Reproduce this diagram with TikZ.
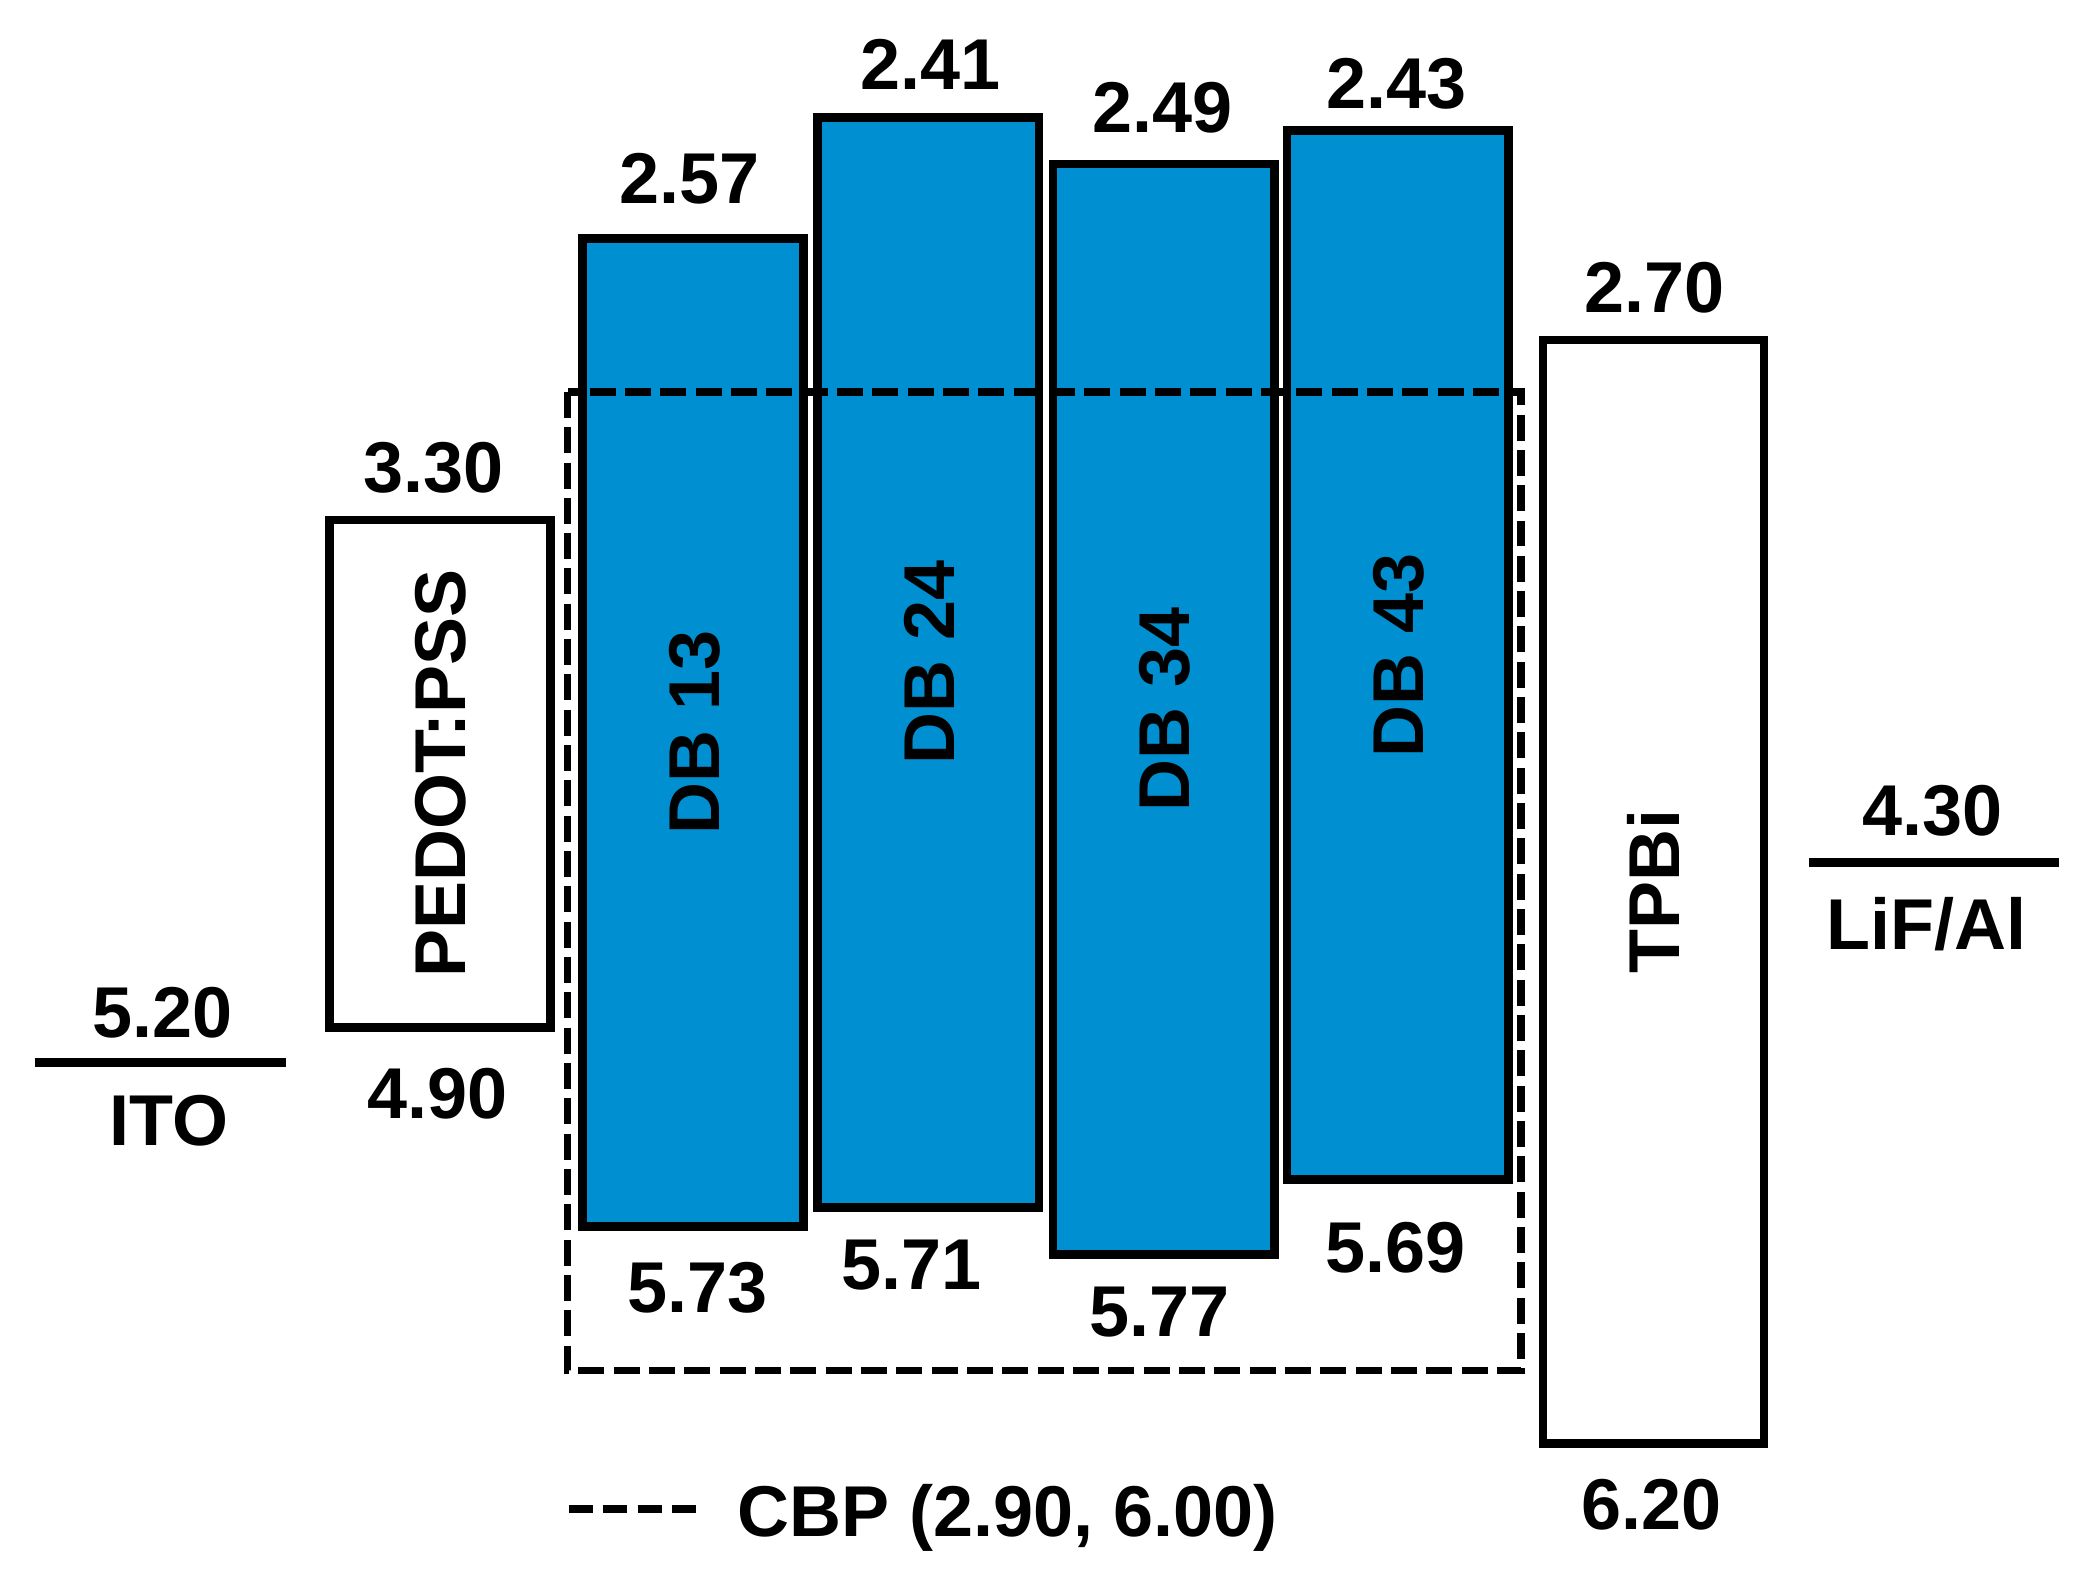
\documentclass[tikz,border=0pt]{standalone}
\usepackage{fontspec}
\setmainfont{Liberation Sans}
\definecolor{dbblue}{RGB}{0,143,209}
\begin{document}
\begin{tikzpicture}[x=1pt,y=-1pt,
  lbl/.style={font=\fontsize{54}{60}\selectfont\bfseries, inner sep=0pt, text height=39pt, text depth=0pt},
  layer/.style={lbl, draw=black, line width=6.5pt, rotate=90},
  dbbox/.style={layer, fill=dbblue},
  level/.style={line width=7pt},
  cbp/.style={line width=5.5pt, dash pattern=on 19.5pt off 7pt}]
\useasboundingbox (0,0) rectangle (1568,1191);
% layers (minimum width = vertical size because of rotation)
\node[layer, minimum width=381pt, minimum height=166pt] (pedot) at (330,580.5) {PEDOT:PSS};
\node[dbbox, minimum width=741pt, minimum height=166pt] (db13) at (520,549.5) {DB 13};
\node[dbbox, minimum width=818pt, minimum height=166pt] (db24) at (696.5,497) {DB 24};
\node[dbbox, minimum width=818pt, minimum height=166pt] (db34) at (873,532) {DB 34};
\node[dbbox, minimum width=787pt, minimum height=166pt] (db43) at (1048.5,491.5) {DB 43};
\node[layer, minimum width=828pt, minimum height=166pt] (tpbi) at (1240.5,669) {TPBi};
% CBP host
\coordinate (cbpnw) at (426,294);
\coordinate (cbpse) at (1141,1028);
\draw[cbp] (cbpnw) rectangle (cbpse);
% electrodes
\coordinate (itoL) at (26,797);
\coordinate (itoR) at (214.5,797);
\draw[level] (itoL) -- (itoR);
\coordinate (lifL) at (1357,647);
\coordinate (lifR) at (1545,647);
\draw[level] (lifL) -- (lifR);
% labels
\node[lbl] (ito1) at (122,759) {5.20};
\node[lbl] (ito2) at (127,840) {ITO};
\node[lbl] (pe1) at (325,350) {3.30};
\node[lbl] (pe2) at (328,820) {4.90};
\node[lbl] (d13a) at (517,133) {2.57};
\node[lbl] (d13b) at (523,965) {5.73};
\node[lbl] (d24a) at (698,48) {2.41};
\node[lbl] (d24b) at (684,948) {5.71};
\node[lbl] (d34a) at (872,80) {2.49};
\node[lbl] (d34b) at (870,983) {5.77};
\node[lbl] (d43a) at (1048,62) {2.43};
\node[lbl] (d43b) at (1047,935) {5.69};
\node[lbl] (tp1) at (1241,215) {2.70};
\node[lbl] (tp2) at (1239,1128) {6.20};
\node[lbl] (lif1) at (1450,607) {4.30};
\node[lbl] (lif2) at (1445,693) {LiF/Al};
% legend
\coordinate (legL) at (427,1132);
\coordinate (legR) at (522,1132);
\draw[line width=5.5pt, dash pattern=on 18pt off 7.7pt] (legL) -- (legR);
\node[lbl, anchor=west] (leg) at (553,1133) {CBP (2.90, 6.00)};
\end{tikzpicture}
\end{document}
